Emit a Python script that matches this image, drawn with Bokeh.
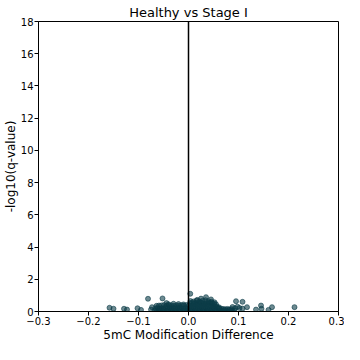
from bokeh.plotting import figure
from bokeh.models import FixedTicker, Span
from bokeh.embed import file_html
from bokeh.resources import INLINE

# Dense core
core_x = [-0.068, -0.064, -0.060, -0.056, -0.052, -0.048, -0.044, -0.040, -0.036, -0.032,
          -0.028, -0.024, -0.020, -0.016, -0.012, -0.008, -0.004, 0.000, 0.004, 0.008,
          0.012, 0.016, 0.020, 0.024, 0.028, 0.032, 0.036, 0.040, 0.044, 0.048,
          0.052, 0.056, 0.060, 0.064, 0.068, 0.072, 0.076, 0.080, 0.084, 0.088, 0.092,
          -0.066, -0.062, -0.058, -0.054, -0.050, -0.046, -0.042, -0.038, -0.034, -0.030,
          -0.026, -0.022, -0.018, -0.014, -0.010, -0.006, -0.002, 0.002, 0.006, 0.010,
          0.014, 0.018, 0.022, 0.026, 0.030, 0.034, 0.038, 0.042, 0.046, 0.050,
          0.054, 0.058, 0.062, 0.066, 0.070, 0.074, 0.078, 0.082, 0.086,
          -0.064, -0.059, -0.054, -0.049, -0.044, -0.039, -0.034, -0.029, -0.024, -0.019,
          -0.014, -0.009, -0.004, 0.001, 0.005, 0.009, 0.013, 0.017, 0.021, 0.025,
          0.029, 0.033, 0.037, 0.041, 0.045, 0.049, 0.053, 0.057, 0.061,
          0.003, 0.007, 0.011, 0.015, 0.019, 0.023, 0.027, 0.031, 0.035, 0.039,
          0.043, 0.047, 0.051, 0.055,
          0.004, 0.010, 0.016, 0.022, 0.028, 0.034, 0.040, 0.046, 0.052,
          -0.040, -0.030, -0.020, -0.010]
core_y = [0.05, 0.07, 0.04, 0.06, 0.05, 0.08, 0.04, 0.06, 0.05, 0.07,
          0.04, 0.06, 0.05, 0.08, 0.04, 0.06, 0.05, 0.07, 0.04, 0.06,
          0.05, 0.08, 0.04, 0.06, 0.05, 0.07, 0.04, 0.06, 0.05, 0.08,
          0.04, 0.06, 0.05, 0.07, 0.04, 0.06, 0.05, 0.08, 0.04, 0.06, 0.05,
          0.20, 0.22, 0.18, 0.21, 0.19, 0.23, 0.20, 0.22, 0.18, 0.21,
          0.19, 0.23, 0.20, 0.22, 0.18, 0.21, 0.19, 0.23, 0.20, 0.22,
          0.18, 0.21, 0.19, 0.23, 0.20, 0.22, 0.18, 0.21, 0.19, 0.23,
          0.20, 0.22, 0.18, 0.17, 0.15, 0.14, 0.16, 0.13, 0.15,
          0.35, 0.37, 0.38, 0.40, 0.36, 0.39, 0.37, 0.35, 0.38, 0.36,
          0.39, 0.37, 0.40, 0.38, 0.36, 0.39, 0.37, 0.40, 0.38, 0.36,
          0.39, 0.37, 0.40, 0.38, 0.36, 0.34, 0.32, 0.30, 0.26,
          0.52, 0.55, 0.50, 0.54, 0.51, 0.56, 0.53, 0.50, 0.55, 0.52,
          0.54, 0.51, 0.48, 0.45,
          0.65, 0.62, 0.68, 0.63, 0.66, 0.70, 0.64, 0.60, 0.57,
          0.45, 0.48, 0.46, 0.44]

# Scattered outliers
out_x = [-0.158, -0.150, -0.129, -0.123, -0.102, -0.095, -0.081, -0.073, -0.052, -0.044,
         0.0035, 0.0175, 0.035, 0.095, 0.108, 0.117, 0.135, 0.145, 0.146, 0.160,
         0.167, 0.212, 0.093, 0.102, 0.108, 0.098, 0.088, -0.075, 0.025, 0.045]
out_y = [0.23, 0.17, 0.17, 0.12, 0.20, 0.10, 0.79, 0.27, 0.81, 0.52,
         1.10, 0.72, 0.89, 0.64, 0.60, 0.27, 0.12, 0.37, 0.17, 0.10,
         0.27, 0.27, 0.20, 0.22, 0.18, 0.30, 0.28, 0.12, 0.80, 0.75]

x_ticks = [-0.3, -0.2, -0.1, 0.0, 0.1, 0.2, 0.3]
x_labels = ["\u22120.3", "\u22120.2", "\u22120.1", "0.0", "0.1", "0.2", "0.3"]
y_ticks = [0, 2, 4, 6, 8, 10, 12, 14, 16, 18]

p = figure(width=344, height=344, output_backend="svg", toolbar_location=None,
           x_range=(-0.3, 0.3), y_range=(0, 18),
           title="Healthy vs Stage I", min_border_right=6, min_border_top=0,
           min_border_bottom=0, min_border_left=0)
p.title.align = "center"
p.title.text_font = "DejaVu Sans"
p.title.text_font_style = "normal"
p.title.text_font_size = "13px"
p.title.text_color = "black"
p.title.standoff = 4
p.title.offset = 0

p.xgrid.visible = False
p.ygrid.visible = False
p.outline_line_color = "black"
p.outline_line_width = 1

for ax in (p.xaxis[0], p.yaxis[0]):
    ax.axis_line_color = "black"
    ax.major_tick_line_color = "black"
    ax.major_tick_out = 4
    ax.major_tick_in = 0
    ax.minor_tick_line_color = None
    ax.major_label_text_font = "DejaVu Sans"
    ax.major_label_text_font_size = "10px"
    ax.major_label_text_color = "black"
    ax.axis_label_text_font = "DejaVu Sans"
    ax.axis_label_text_font_style = "normal"
    ax.axis_label_text_font_size = "12px"
    ax.axis_label_text_color = "black"
    ax.major_label_standoff = 1
    ax.axis_label_standoff = 0

p.xaxis.ticker = FixedTicker(ticks=x_ticks)
p.xaxis.major_label_overrides = {t: l for t, l in zip(x_ticks, x_labels)}
p.yaxis.ticker = FixedTicker(ticks=y_ticks)
p.xaxis.axis_label = "5mC Modification Difference"
p.yaxis.axis_label = "-log10(q-value)"

p.scatter(core_x, core_y, size=5, fill_color="#0b3c47", line_color="#0b3c47",
          fill_alpha=0.6, line_alpha=0.6)
p.scatter(out_x, out_y, size=5, fill_color="#0b3c47", line_color="#0b3c47",
          fill_alpha=0.6, line_alpha=0.6)

p.add_layout(Span(location=0, dimension="height", line_color="black", line_width=1.5))

open("out.html", "w").write(file_html(p, INLINE))
